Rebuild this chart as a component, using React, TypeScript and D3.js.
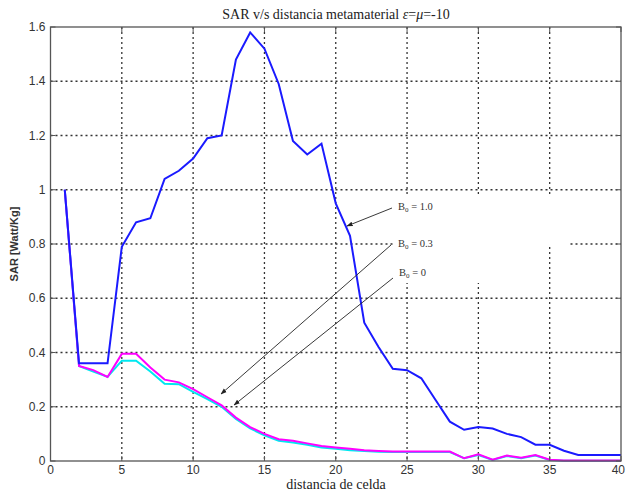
import React from "react";
import * as d3 from "d3";

const xs = d3.range(1, 41);
const sarB10 = [1.0, 0.36, 0.36, 0.36, 0.79, 0.88, 0.895, 1.04, 1.07, 1.115, 1.19, 1.2, 1.48, 1.58, 1.52, 1.39, 1.18, 1.13, 1.17, 0.95, 0.83, 0.51, 0.42, 0.34, 0.335, 0.305, 0.225, 0.145, 0.115, 0.125, 0.12, 0.1, 0.088, 0.06, 0.06, 0.038, 0.022, 0.022, 0.022, 0.022];
const sarB03 = [1.0, 0.35, 0.335, 0.31, 0.395, 0.395, 0.345, 0.3, 0.29, 0.265, 0.235, 0.205, 0.16, 0.125, 0.1, 0.08, 0.075, 0.065, 0.055, 0.05, 0.045, 0.04, 0.037, 0.035, 0.035, 0.035, 0.035, 0.035, 0.01, 0.025, 0.005, 0.02, 0.012, 0.022, 0.005, 0.002, 0.002, 0.002, 0.002, 0.002];
const sarB0 = [1.0, 0.35, 0.33, 0.31, 0.37, 0.37, 0.33, 0.285, 0.283, 0.255, 0.228, 0.2, 0.155, 0.12, 0.095, 0.075, 0.068, 0.06, 0.05, 0.045, 0.04, 0.037, 0.034, 0.033, 0.033, 0.033, 0.033, 0.033, 0.01, 0.022, 0.004, 0.018, 0.01, 0.02, 0.004, 0.001, 0.001, 0.001, 0.001, 0.001];
const xTicks = [0, 5, 10, 15, 20, 25, 30, 35, 40];
const yTicks = [0, 0.2, 0.4, 0.6, 0.8, 1, 1.2, 1.4, 1.6];
const annotations = [
  { label: "1.0", tx: 398, ty: 210, fromX: 392, fromY: 208, toX: 347, toY: 226 },
  { label: "0.3", tx: 398, ty: 247, fromX: 391, fromY: 245, toX: 221, toY: 394 },
  { label: "0", tx: 399, ty: 276, fromX: 393, fromY: 278, toX: 234, toY: 405 },
];

export default function App() {
  const W = 626, H = 494;
  const left = 50.5, right = 621, top = 27, bottom = 461;
  const x = d3.scaleLinear().domain([0, 40]).range([left, right]);
  const y = d3.scaleLinear().domain([0, 1.6]).range([bottom, top]);
  const line = (vals: number[]) =>
    d3.line<number>().x((_, i) => x(xs[i])).y((v) => y(v))(vals) || "";
  const tickFont = "Arial, 'Liberation Sans', sans-serif";
  const serif = "'Times New Roman', 'Liberation Serif', serif";
  return (
    <svg width={W} height={H} style={{ position: "absolute", left: 0, top: 0, background: "#fff" }}>
      <defs>
        <marker id="ah" viewBox="0 0 10 10" refX="9" refY="5" markerWidth="7" markerHeight="7" orient="auto">
          <path d="M0,1.5 L10,5 L0,8.5 Z" fill="#222" />
        </marker>
      </defs>
      <rect x={0} y={0} width={W} height={H} fill="#fff" />
      {xTicks.slice(1, -1).map((t) => (
        <line key={"gx" + t} x1={x(t)} x2={x(t)} y1={top} y2={bottom} stroke="#333" strokeWidth={1.3} strokeDasharray="2,3" />
      ))}
      {yTicks.slice(1, -1).map((t) => (
        <line key={"gy" + t} x1={left} x2={right} y1={y(t)} y2={y(t)} stroke="#333" strokeWidth={1.3} strokeDasharray="2,3" />
      ))}
      <rect x={395} y={197} width={150} height={86} fill="#fff" />
      <rect x={545} y={197} width={23} height={49} fill="#fff" />
      <path d={line(sarB0)} fill="none" stroke="#00e8f0" strokeWidth={2} />
      <path d={line(sarB03)} fill="none" stroke="#ff00ff" strokeWidth={2} />
      <path d={line(sarB10)} fill="none" stroke="#1a1aff" strokeWidth={2} />
      <rect x={left} y={top} width={right - left} height={bottom - top} fill="none" stroke="#555" strokeWidth={1.3} />
      {xTicks.map((t, i) => (
        <g key={"tx" + t}>
          <line x1={x(t)} x2={x(t)} y1={bottom} y2={bottom - 5} stroke="#555" />
          <line x1={x(t)} x2={x(t)} y1={top} y2={top + 5} stroke="#555" />
          <text x={i === xTicks.length - 1 ? W - 1 : x(t)} y={bottom + 13} textAnchor={i === xTicks.length - 1 ? "end" : "middle"} fontFamily={tickFont} fontSize={12} fill="#333">{t}</text>
        </g>
      ))}
      {yTicks.map((t) => (
        <g key={"ty" + t}>
          <line x1={left} x2={left + 5} y1={y(t)} y2={y(t)} stroke="#555" />
          <line x1={right} x2={right - 5} y1={y(t)} y2={y(t)} stroke="#555" />
          <text x={left - 5} y={y(t) + 4} textAnchor="end" fontFamily={tickFont} fontSize={12} fill="#333">{d3.format("~g")(t)}</text>
        </g>
      ))}
      {annotations.map((a) => (
        <g key={a.label}>
          <line x1={a.fromX} y1={a.fromY} x2={a.toX} y2={a.toY} stroke="#222" strokeWidth={0.9} markerEnd="url(#ah)" />
          <text x={a.tx} y={a.ty} fontFamily={serif} fontSize={10.5} fill="#333">
            B<tspan fontSize={7} dy={2}>0</tspan><tspan dy={-2}> = {a.label}</tspan>
          </text>
        </g>
      ))}
      <text x={336} y={19} textAnchor="middle" fontFamily={serif} fontSize={14} fill="#222">
        SAR v/s distancia metamaterial <tspan fontStyle="italic">ε</tspan>=<tspan fontStyle="italic">μ</tspan>=-10
      </text>
      <text x={336} y={489} textAnchor="middle" fontFamily={serif} fontSize={14} fill="#222">distancia de celda</text>
      <text transform="translate(18,244) rotate(-90)" textAnchor="middle" fontFamily={tickFont} fontWeight="bold" fontSize={11} fill="#333">SAR [Watt/Kg]</text>
    </svg>
  );
}
